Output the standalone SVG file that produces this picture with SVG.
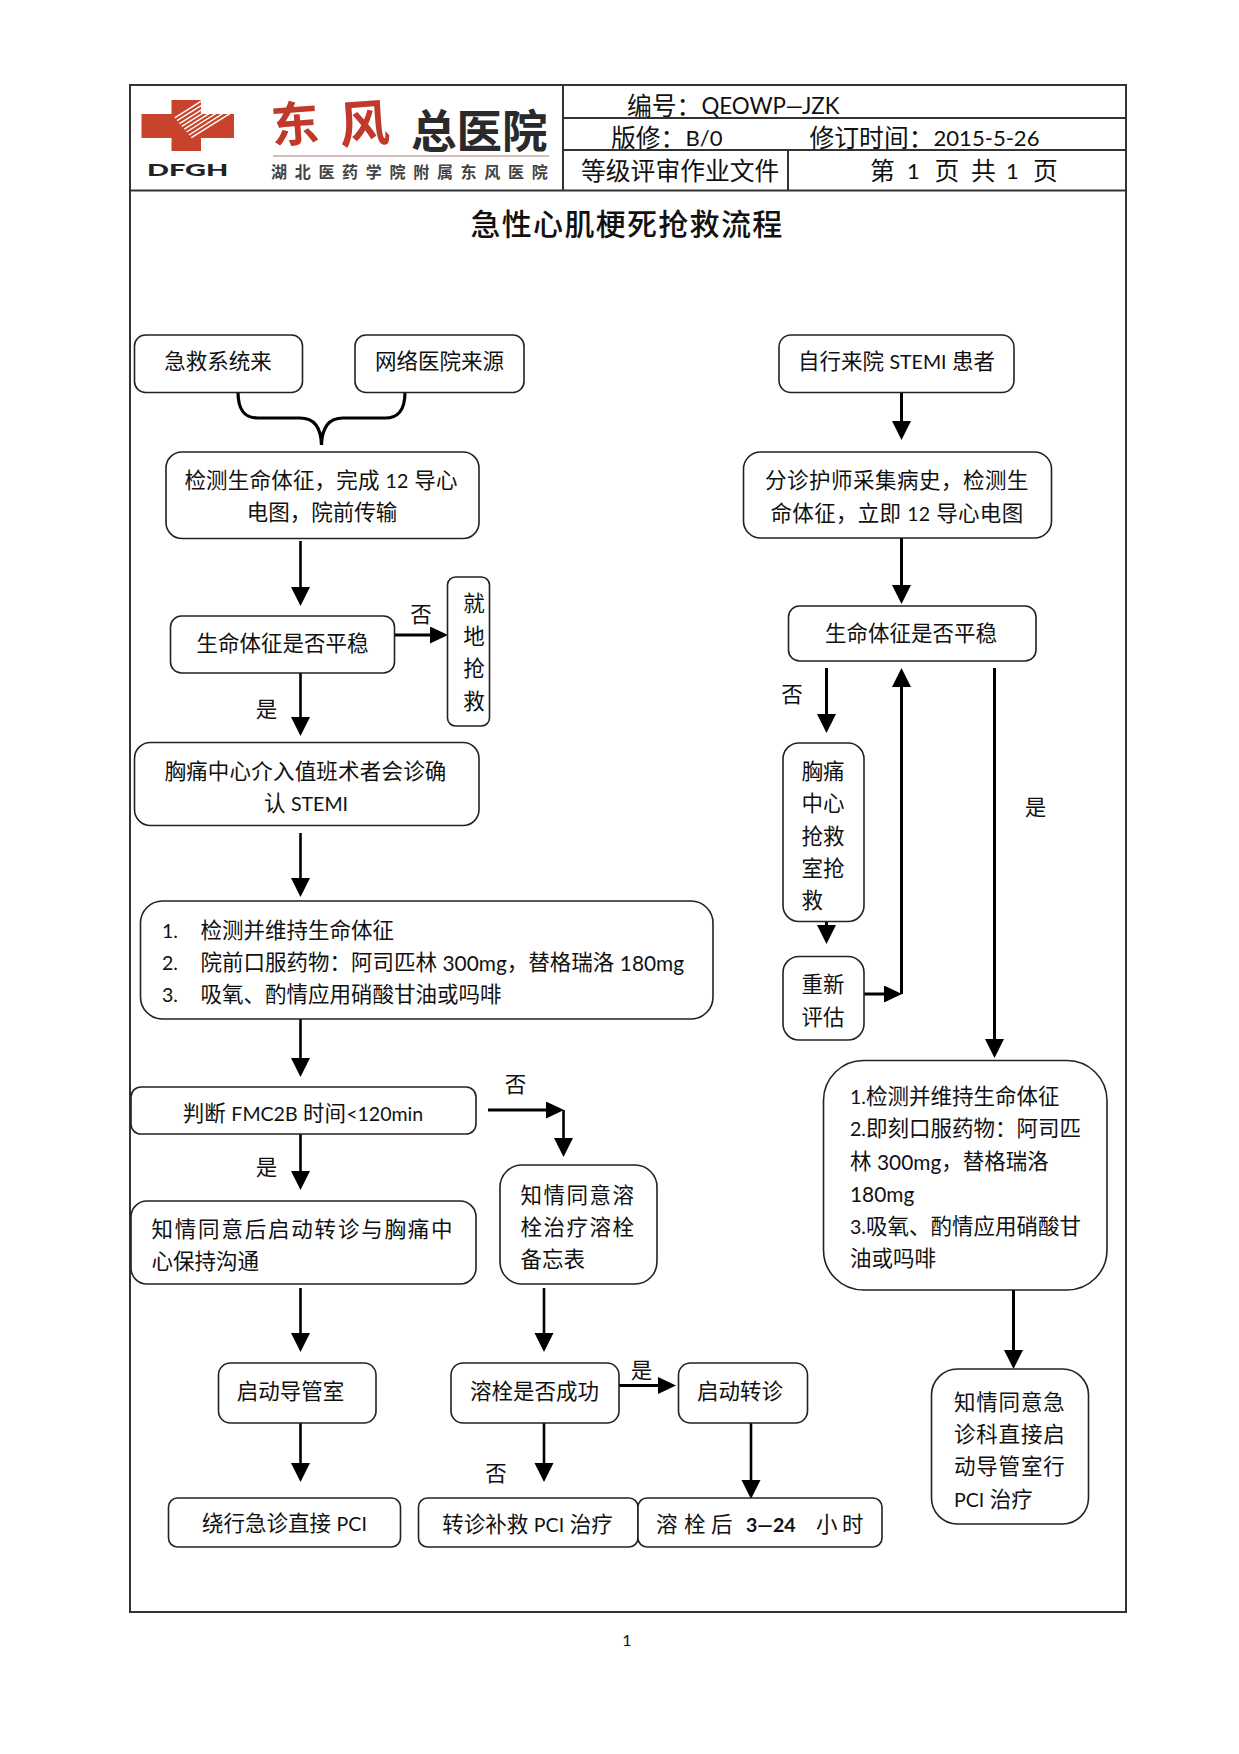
<svg xmlns="http://www.w3.org/2000/svg" width="1239" height="1754" viewBox="0 0 1239 1754">
<style>
text{font-family:Lato,"Noto Sans CJK SC","Noto Sans",sans-serif;font-size:21.5px;fill:#111;dominant-baseline:central}
.m{text-anchor:middle}
.b{fill:#fff;stroke:#222;stroke-width:1.6}
.f{stroke:#333;stroke-width:2;fill:none}
.a{stroke:#000;stroke-width:2.6;fill:none;marker-end:url(#v)}
.c{stroke:#000;stroke-width:3;fill:none;marker-end:url(#v)}
.h{stroke:#000;stroke-width:3;fill:none;marker-end:url(#h)}
.hd{font-size:24.800px}
.l{font-size:.91em}
.w{font-size:.97em}
.lh{font-size:.89em}
</style>
<defs>
<marker id="v" markerUnits="userSpaceOnUse" markerWidth="20" markerHeight="20" refX="9" refY="9.5" orient="auto"><path d="M0 0L19 9.5L0 19z" fill="#000"/></marker>
<marker id="h" markerUnits="userSpaceOnUse" markerWidth="20" markerHeight="20" refX="8" refY="8.5" orient="auto"><path d="M0 0L18 8.5L0 17z" fill="#000"/></marker>
</defs>
<rect width="1239" height="1754" fill="#fff"/>
<g id="frame">
<path class="f" d="M130 85H1126V1612H130Z"/>
<path class="f" d="M130 190.500H1126M563 85V190.500M563 118H1126M563 150H1126M788 150V190.500"/>
</g>
<g id="logo">
<path fill="#c8432c" d="M171.500 100H201V114H234V138H201V151H171.500V138H141.500V114H171.500Z"/>
<path stroke="#fff" stroke-width="1.400" fill="none" d="M174.700 117.800L201.200 101.200M177 120.600L205.500 102.900M179.500 123.600L209.800 104.600M181.800 126.400L214 106.200M184.200 129.100L218.200 107.800M186.500 132L222.400 109.400M189 135L226.600 111.200M191.300 137.700L231 112.800"/>
<text class="m" x="295" y="123" transform="rotate(-4 295 123)" style="font-size:48px;fill:#c0392b;font-weight:700">东</text>
<text class="m" x="364" y="123" transform="rotate(-4 364 123)" style="font-size:50px;fill:#c0392b;font-weight:700">风</text>
<text x="411" y="130" style="font-size:45.500px;fill:#2a2a2a;font-weight:700">总医院</text>
<path d="M273 156H549" stroke="#c9a9a0" stroke-width="1.500"/>
<text x="271" y="171" style="font-size:16px;font-weight:700;fill:#444;letter-spacing:7.700px">湖北医药学院附属东风医院</text>
<text transform="translate(147 169.500) scale(1.750 1)" style="font-size:16.500px;font-weight:900;fill:#222">DFGH</text>
</g>
<g id="header">
<text class="hd" x="627" y="105">编号：<tspan class="lh" style="font-size:.9em">QEOWP—JZK</tspan></text>
<text class="hd" x="611" y="137">版修：<tspan class="lh">B/0</tspan></text>
<text class="hd" x="809.500" y="137">修订时间：<tspan class="lh">2015-5-26</tspan></text>
<text class="hd" x="581" y="170">等级评审作业文件</text>
<text class="hd" y="170"><tspan x="870">第 </tspan><tspan x="907" class="lh">1 </tspan><tspan x="934.500">页 </tspan><tspan x="971">共 </tspan><tspan x="1006" class="lh">1 </tspan><tspan x="1033">页</tspan></text>
<text class="m" x="627" y="223" style="font-size:30px;letter-spacing:1.300px;font-weight:500">急性心肌梗死抢救流程</text>
</g>
<g id="connectors">
<path d="M238 392C238 412 246 418 258 418H300C314 418 321 428 321.500 445C322 428 329 418 343 418H385C397 418 405 412 405 392" stroke="#000" stroke-width="3.200" fill="none"/>
<path class="a" d="M300.500 541V596"/>
<path class="h" d="M394 635H438"/>
<path class="a" d="M300.500 671V726"/>
<path class="a" d="M300.500 833V887"/>
<path class="a" d="M300.500 1012V1067"/>
<path class="a" d="M300.500 1126V1180"/>
<path class="h" d="M488 1110H554"/>
<path class="a" d="M563.500 1110V1147"/>
<path class="a" d="M300.500 1288V1342"/>
<path class="a" d="M300.500 1418V1472"/>
<path class="a" d="M544 1288V1342"/>
<path class="a" d="M544 1418V1472"/>
<path class="h" d="M619 1385.500H666"/>
<path class="a" d="M751 1418V1489"/>
<path class="c" d="M901.500 393V430"/>
<path class="c" d="M901.500 538V594"/>
<path class="c" d="M826.500 668V723"/>
<path class="c" d="M826.500 922V934"/>
<path class="h" d="M864 994H892"/>
<path class="c" d="M901.500 994V678"/>
<path class="c" d="M994.500 668V1048"/>
<path class="c" d="M1013.500 1290V1359"/>
</g>
<g id="labels">
<text class="m" x="421" y="614">否</text>
<text class="m" x="266.500" y="709">是</text>
<text class="m" x="515.500" y="1084">否</text>
<text class="m" x="266.500" y="1167">是</text>
<text class="m" x="496" y="1473">否</text>
<text class="m" x="641.500" y="1370">是</text>
<text class="m" x="792" y="694">否</text>
<text class="m" x="1035.500" y="807">是</text>
</g>
<g id="n1"><rect class="b" x="134.500" y="335" width="168" height="57.500" rx="11"/><text class="m" x="218" y="360.500">急救系统来</text></g>
<g id="n2"><rect class="b" x="355" y="335" width="169" height="57.500" rx="11"/><text class="m" x="439.500" y="360.500">网络医院来源</text></g>
<g id="n3"><rect class="b" x="166" y="452" width="313" height="86.500" rx="16"/><text class="m" x="321" y="480" style="letter-spacing:.200px">检测生命体征，完成 <tspan class="l">12</tspan> 导心</text><text class="m" x="322" y="512">电图，院前传输</text></g>
<g id="n4"><rect class="b" x="170.500" y="616" width="224" height="57" rx="11"/><text class="m" x="282.500" y="643">生命体征是否平稳</text></g>
<g id="n5"><rect class="b" x="447.500" y="577" width="42" height="149" rx="8"/><text class="m" x="474" y="602.500">就</text><text class="m" x="474" y="636">地</text><text class="m" x="474" y="667.500">抢</text><text class="m" x="474" y="701">救</text></g>
<g id="n6"><rect class="b" x="134.500" y="742.500" width="344.500" height="83" rx="16"/><text class="m" x="305.500" y="770.500" style="letter-spacing:.200px">胸痛中心介入值班术者会诊确</text><text class="m" x="306" y="803">认 <tspan class="l">STEMI</tspan></text></g>
<g id="n7"><rect class="b" x="140.500" y="901" width="572.500" height="118" rx="22"/>
<text x="162" y="930"><tspan class="l">1.</tspan></text><text x="200.500" y="930">检测并维持生命体征</text>
<text x="162" y="962"><tspan class="l">2.</tspan></text><text x="200.500" y="962">院前口服药物：阿司匹林 <tspan class="w">300mg</tspan>，替格瑞洛 <tspan class="w">180mg</tspan></text>
<text x="162" y="994"><tspan class="l">3.</tspan></text><text x="200.500" y="994">吸氧、酌情应用硝酸甘油或吗啡</text></g>
<g id="n8"><rect class="b" x="131" y="1087" width="345" height="47" rx="10"/><text class="m" x="303" y="1113">判断 <tspan class="l">FMC2B</tspan> 时间<tspan class="l">&lt;120min</tspan></text></g>
<g id="n9"><rect class="b" x="131" y="1201" width="345" height="83" rx="16"/><text x="151.500" y="1229" style="letter-spacing:1.800px">知情同意后启动转诊与胸痛中</text><text x="151.500" y="1261">心保持沟通</text></g>
<g id="n10"><rect class="b" x="500" y="1165" width="157" height="119" rx="22"/><text x="520.500" y="1195" style="letter-spacing:1.500px">知情同意溶</text><text x="520.500" y="1227" style="letter-spacing:1.500px">栓治疗溶栓</text><text x="520.500" y="1259">备忘表</text></g>
<g id="n11"><rect class="b" x="218.500" y="1363" width="157.500" height="60" rx="12"/><text class="m" x="290.500" y="1391">启动导管室</text></g>
<g id="n12"><rect class="b" x="451" y="1363" width="168" height="60" rx="12"/><text class="m" x="534.500" y="1391">溶栓是否成功</text></g>
<g id="n13"><rect class="b" x="678.500" y="1363" width="129" height="60" rx="12"/><text class="m" x="740" y="1391">启动转诊</text></g>
<g id="n14"><rect class="b" x="168.500" y="1498" width="232" height="49" rx="9"/><text class="m" x="284.500" y="1523">绕行急诊直接 <tspan class="l">PCI</tspan></text></g>
<g id="n15"><rect class="b" x="418.500" y="1498" width="219.500" height="49" rx="9"/><text class="m" x="527.500" y="1524">转诊补救 <tspan class="l">PCI</tspan> 治疗</text></g>
<g id="n16"><rect class="b" x="638" y="1498" width="244" height="49" rx="9"/><text y="1524"><tspan x="656">溶 </tspan><tspan x="684">栓 </tspan><tspan x="711">后 </tspan><tspan x="746" class="l" style="font-weight:700">3—24 </tspan><tspan x="816">小 </tspan><tspan x="842">时</tspan></text></g>
<g id="n17"><rect class="b" x="779" y="335" width="235" height="57.500" rx="12"/><text class="m" x="896.500" y="361">自行来院 <tspan class="l">STEMI</tspan> 患者</text></g>
<g id="n18"><rect class="b" x="743.500" y="452" width="308" height="86" rx="17"/><text class="m" x="897" y="480" style="letter-spacing:.500px">分诊护师采集病史，检测生</text><text class="m" x="897" y="512.500" style="letter-spacing:.300px">命体征，立即 <tspan class="l">12</tspan> 导心电图</text></g>
<g id="n19"><rect class="b" x="788.500" y="606" width="247.500" height="55" rx="11"/><text class="m" x="911" y="633">生命体征是否平稳</text></g>
<g id="n20"><rect class="b" x="783" y="743" width="81" height="178.500" rx="16"/><text x="801.500" y="771">胸痛</text><text x="801.500" y="803">中心</text><text x="801.500" y="835.500">抢救</text><text x="801.500" y="868">室抢</text><text x="801.500" y="899.500">救</text></g>
<g id="n21"><rect class="b" x="783" y="956.500" width="81" height="83.500" rx="16"/><text x="801.500" y="984">重新</text><text x="801.500" y="1017">评估</text></g>
<g id="n22"><rect class="b" x="823.500" y="1060.500" width="283.500" height="229.500" rx="40"/>
<text x="850" y="1096"><tspan class="l">1.</tspan>检测并维持生命体征</text><text x="850" y="1128"><tspan class="l">2.</tspan>即刻口服药物：阿司匹</text><text x="850" y="1160.500">林 <tspan class="w">300mg</tspan>，替格瑞洛</text><text x="850" y="1193"><tspan class="w">180mg</tspan></text><text x="850" y="1226"><tspan class="l">3.</tspan>吸氧、酌情应用硝酸甘</text><text x="850" y="1258">油或吗啡</text></g>
<g id="n23"><rect class="b" x="931.500" y="1369" width="157" height="155" rx="26"/><text x="954" y="1401.500" style="letter-spacing:.800px">知情同意急</text><text x="954" y="1433.500" style="letter-spacing:.800px">诊科直接启</text><text x="954" y="1466" style="letter-spacing:.800px">动导管室行</text><text x="954" y="1498.500"><tspan class="l">PCI</tspan> 治疗</text></g>
<g id="page"><text class="m" x="627" y="1639" style="font-size:16px">1</text></g>
</svg>
